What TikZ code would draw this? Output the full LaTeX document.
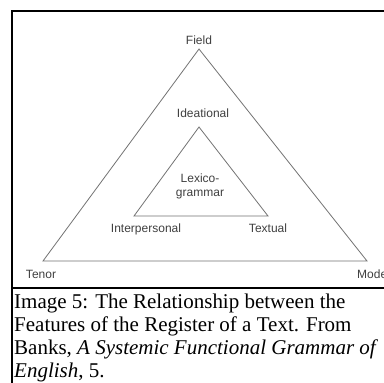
\documentclass[tikz,border=0pt]{standalone}
\usepackage{fontspec}
\setmainfont{Liberation Serif}
\newfontfamily\labelfont{Liberation Sans}
\begin{document}
\begin{tikzpicture}[x=1pt,y=-1pt,
  lbl/.style={font=\labelfont\fontsize{12}{14}\selectfont, text=black!75, inner sep=0pt, anchor=base},
  edge/.style={draw=black!55, line width=0.8pt, line join=miter},
  frame/.style={draw=black, line width=2.4pt},
  captext/.style={font=\fontsize{21}{23}\selectfont, inner sep=0pt, anchor=base west}]
\useasboundingbox (0,0) rectangle (384,383);
\clip (0,0) rectangle (384,383);
\fill[white] (0,0) rectangle (384,383);
% frame
\coordinate (fTL) at (12,11);
\coordinate (fTR) at (390,11);
\coordinate (fBL) at (12,288);
\coordinate (fBR) at (390,288);
\coordinate (fB) at (12,390);
\draw[frame] (fTR) -- (fTL) -- (fB);
\draw[frame] (fBL) -- (fBR);
% outer triangle
\coordinate (oA) at (199,49);
\coordinate (oL) at (43,261);
\coordinate (oR) at (367,261);
\draw[edge] (oA) -- (oL) -- (oR) -- cycle;
% inner triangle
\coordinate (iA) at (199,127);
\coordinate (iL) at (134,216);
\coordinate (iR) at (268,216);
\draw[edge] (iA) -- (iL) -- (iR) -- cycle;
% labels
\node[lbl] (field) at (199,44) {Field};
\node[lbl] (ideational) at (203,117) {Ideational};
\node[lbl] (lexico) at (200,182) {Lexico-};
\node[lbl] (grammar) at (200,196) {grammar};
\node[lbl] (interpersonal) at (146,232) {Interpersonal};
\node[lbl] (textual) at (268,232) {Textual};
\node[lbl] (tenor) at (41,278) {Tenor};
\node[lbl, anchor=base west] (mode) at (357,278) {Mode};
% caption
\node[captext] (c1) at (14,308) {Image 5: The Relationship between the};
\node[captext] (c2) at (14,331) {Features of the Register of a Text. From};
\node[captext] (c3) at (14,354) {Banks, \textit{A Systemic Functional Grammar of}};
\node[captext] (c4) at (14,377) {\textit{English}, 5.};
\end{tikzpicture}
\end{document}
